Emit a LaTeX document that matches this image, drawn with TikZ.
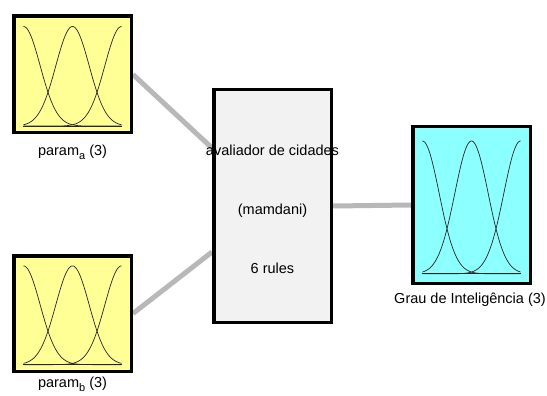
\documentclass[tikz,border=0pt]{standalone}
\usepackage{fontspec}
\setmainfont{Liberation Sans}
\usetikzlibrary{backgrounds}

\definecolor{inyellow}{RGB}{255,255,150}
\definecolor{outcyan}{RGB}{140,255,255}
\definecolor{rulegray}{RGB}{242,242,242}
\definecolor{wiregray}{RGB}{184,184,184}

\tikzset{
	fisbox/.style={draw=black, line width=3.5pt, inner sep=0pt, minimum width=117.5pt},
	wire/.style={draw=wiregray, line width=5pt},
	mfline/.style={black!85, line width=0.7pt},
	every node/.style={font=\fontsize{14.5}{17}\selectfont}
}

% lowered index as in param_a
\newcommand{\lowsub}[1]{\raisebox{-4.5pt}{\fontsize{11}{13}\selectfont #1}}

% three gaussian sets + base line, centre (#1,#2), box size #3 x #4
\newcommand{\mfcurves}[4]{%
	\pgfmathsetmacro{\mfhw}{0.405*#3}
	\pgfmathsetmacro{\mfpk}{-0.4*#4}
	\pgfmathsetmacro{\mfbl}{0.43*#4}
	\pgfmathsetmacro{\mfsd}{0.34*\mfhw}
	\draw[mfline] (#1-\mfhw,#2+\mfbl) -- (#1+\mfhw,#2+\mfbl);
	\foreach \mfc in {-1,0,1}
		\draw[mfline] plot[domain=-\mfhw:\mfhw, samples=80, smooth]
			({#1+\x}, {#2+\mfbl-(\mfbl-\mfpk)*exp(-((\x-(\mfc)*\mfhw)^2)/(2*\mfsd*\mfsd))});
}

\begin{document}
\begin{tikzpicture}[x=1pt, y=-1pt]
	\useasboundingbox (0,0) rectangle (547,396);

	% inputs
	\node[fisbox, fill=inyellow, minimum height=116.5pt] (pa) at (72.5,74.5) {};
	\node[fisbox, fill=inyellow, minimum height=115.5pt] (pb) at (72.5,313.5) {};
	\mfcurves{72.5}{74.5}{121}{120}
	\mfcurves{72.5}{313.5}{121}{119}
	\node[anchor=base] (palabel) at (72.5,155) {param\lowsub{a} (3)};
	\node[anchor=base] (pblabel) at (72.5,387) {param\lowsub{b} (3)};

	% rule block
	\node[fisbox, fill=rulegray, minimum height=232.5pt] (rule) at (272.5,206) {};
	\node[anchor=base] (rulename) at (272.5,155) {avaliador de cidades};
	\node[anchor=base] (ruletype) at (272.5,214) {(mamdani)};
	\node[anchor=base] (rulecount) at (272.5,273) {6 rules};

	% output
	\node[fisbox, fill=outcyan, minimum height=156.5pt] (grau) at (471.5,205) {};
	\mfcurves{471.5}{205}{121}{160}
	\node[anchor=base] (graulabel) at (470,303.5) {Grau de Inteligência (3)};

	\begin{scope}[on background layer]
		\draw[wire] (pa.east) -- ([yshift=58pt]rule.west);
		\draw[wire] (pb.east) -- ([yshift=-46pt]rule.west);
		\draw[wire] (rule.east) -- (grau.west);
	\end{scope}
\end{tikzpicture}
\end{document}
